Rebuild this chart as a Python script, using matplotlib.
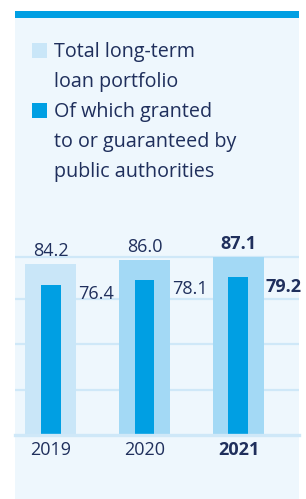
import matplotlib
matplotlib.use("Agg")
import matplotlib.pyplot as plt
from matplotlib.patches import Rectangle

years = ["2019", "2020", "2021"]
total_portfolio = [84.2, 86.0, 87.1]
public_portion = [76.4, 78.1, 79.2]
total_labels = ["84.2", "86.0", "87.1"]
public_labels = ["76.4", "78.1", "79.2"]
legend_lines = [["Total long-term", "loan portfolio"],
                ["Of which granted", "to or guaranteed by", "public authorities"]]

W, H = 306, 499
DPI = 100
NAVY = "#1f2f5c"
PANEL = "#eef7fd"
GRID = "#cfe8f8"
BLUE = "#009fe3"
LIGHT_OUTER = ["#c9e6f8", "#a3d9f5", "#a3d9f5"]
FONT = "Open Sans"

fig = plt.figure(figsize=(W / DPI, H / DPI), dpi=DPI)
fig.patch.set_facecolor("white")

def fx(px):
    return px / W

def fy(py):
    return 1 - py / H

# panel background and top accent bar
fig.patches.append(Rectangle((fx(15), 0), fx(284), fy(11), transform=fig.transFigure,
                             facecolor=PANEL, edgecolor="none", zorder=-2))
fig.patches.append(Rectangle((fx(15), fy(18)), fx(284), 7 / H, transform=fig.transFigure,
                             facecolor=BLUE, edgecolor="none", zorder=-1))

# legend (manual)
sq = [(43, LIGHT_OUTER[0]), (103, BLUE)]
baselines = [[57, 87], [117, 147, 177]]
for (top, col), lines, bls in zip(sq, legend_lines, baselines):
    fig.patches.append(Rectangle((fx(32), fy(top + 15)), fx(15), 15 / H,
                                 transform=fig.transFigure, facecolor=col,
                                 edgecolor="none", zorder=2))
    for line, b in zip(lines, bls):
        fig.text(fx(54), fy(b), line, fontsize=14.2, family=FONT, color=NAVY,
                 va="baseline", ha="left")

# chart axes: x from 15 to 299 px, y from 435 (bottom) to 200 (top)
ax_top, ax_bot = 200, 435
ax = fig.add_axes([fx(15), fy(ax_bot), fx(284), (ax_bot - ax_top) / H])
ax.set_zorder(1)
ax.set_facecolor("none")
# value v maps to pixel 485 - 2.62 v
ylo = (485 - ax_bot) / 2.62
yhi = (485 - ax_top) / 2.62
ax.set_ylim(ylo, yhi)
ax.set_xlim(-0.378, 2.644)

grid_px = [390, 344, 299, 257]
for gp in grid_px:
    ax.axhline((485 - gp) / 2.62, color=GRID, lw=1.6, zorder=0)
ax.axhline(ylo, color=GRID, lw=2.4, zorder=3, clip_on=False)

x = list(range(len(years)))
outer_w = 51 / 94
inner_w = 20 / 94
ax.bar(x, total_portfolio, width=outer_w, color=LIGHT_OUTER, zorder=1)
ax.bar(x, public_portion, width=inner_w, color=BLUE, zorder=2)

for i in x:
    bold = "bold" if i == len(x) - 1 else "normal"
    ax.annotate(total_labels[i], (i, total_portfolio[i]), xytext=(0, 3),
                textcoords="offset points", ha="center", va="bottom",
                fontsize=13, family=FONT, color=NAVY, fontweight=bold)
    ax.annotate(public_labels[i], (i + outer_w / 2, public_portion[i]), xytext=(1.2, -6.5),
                textcoords="offset points", ha="left", va="center",
                fontsize=13, family=FONT, color=NAVY, fontweight=bold)

ax.set_xticks(x)
ax.set_xticklabels(years, family=FONT, fontsize=13, color=NAVY)
ax.get_xticklabels()[-1].set_fontweight("bold")
ax.tick_params(axis="x", length=0, pad=4.5)
ax.set_yticks([])
for s in ax.spines.values():
    s.set_visible(False)

fig.savefig("out.png", dpi=DPI)
